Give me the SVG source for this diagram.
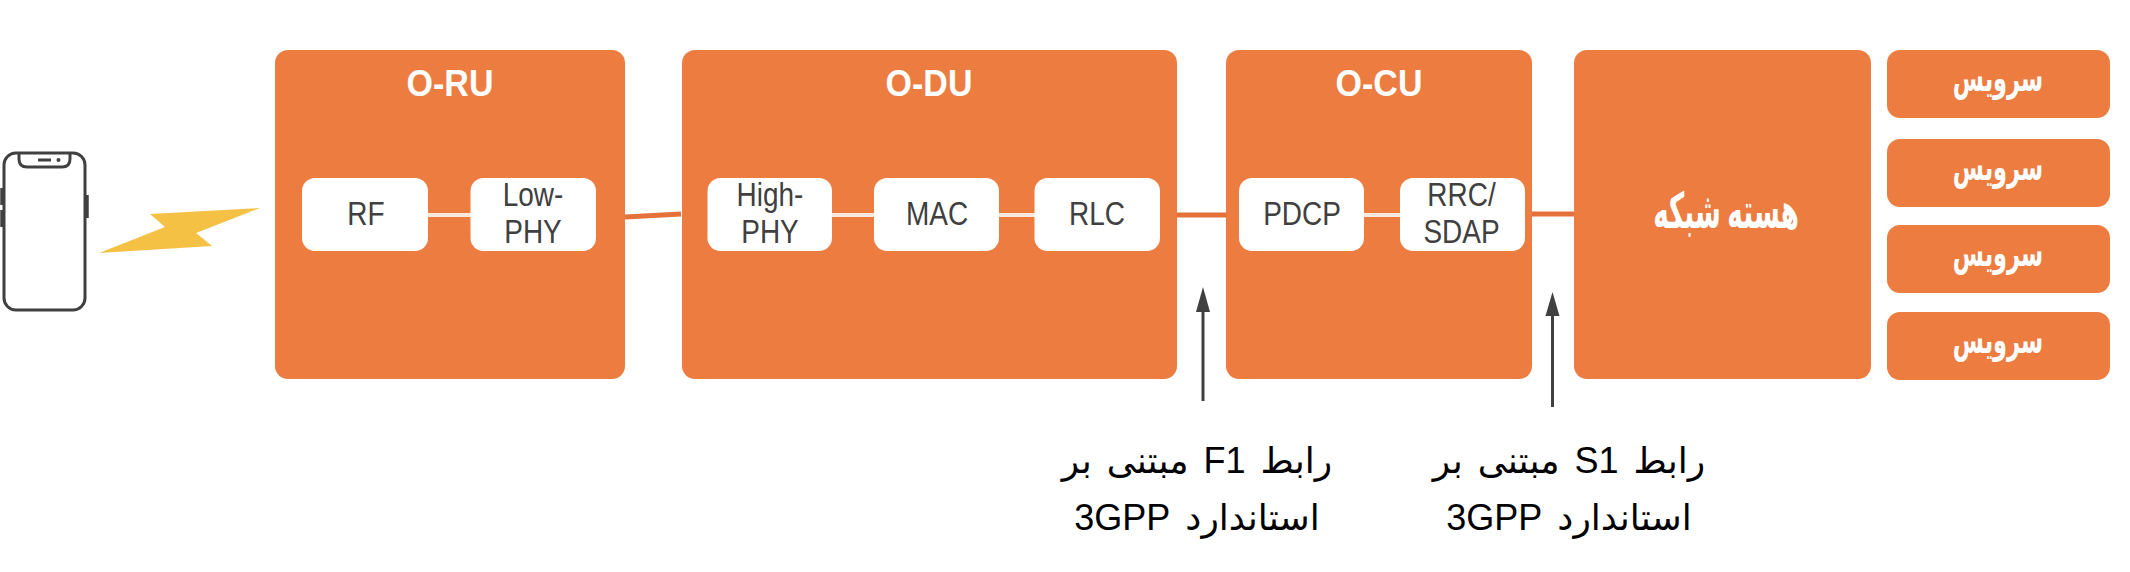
<svg xmlns="http://www.w3.org/2000/svg" width="2130" height="572" viewBox="0 0 2130 572">
<style>
.o{fill:#ec7c40}
.w{fill:#fff}
.t{font-family:"Liberation Sans",Arial,sans-serif;font-size:28px;fill:#404040;text-anchor:middle}
.h{font-family:"Liberation Sans",Arial,sans-serif;font-size:34px;font-weight:bold;fill:#fff;text-anchor:middle}
.s{font-family:"Liberation Serif","DejaVu Sans",serif;font-size:30px;font-weight:bold;fill:#fff;text-anchor:middle;direction:rtl}
.c{font-family:"Liberation Serif","DejaVu Sans",serif;font-size:38px;font-weight:bold;fill:#fff;text-anchor:middle;direction:rtl}
.l{font-family:"Liberation Sans","DejaVu Sans",sans-serif;font-size:36px;word-spacing:5px;fill:#000;text-anchor:middle;direction:rtl}
.in{stroke:#fbe8dc;stroke-width:4;fill:none}
.out{stroke:#e4713a;stroke-width:5;fill:none}
.ar{stroke:#404040;stroke-width:3;fill:none}
.p{stroke:#404040;stroke-width:3;fill:none}
</style>
<defs>
<rect id="sv" width="223" height="68" rx="13" class="o"/>
</defs>
<g id="phone">
<rect class="p" x="4" y="153" width="81" height="157" rx="12"/>
<path class="p" d="M19 154v5q0 8 8 8h35q8 0 8-8v-5"/>
<path class="p" d="M38 160h13"/>
<circle cx="58.5" cy="160" r="2" fill="#404040"/>
<path d="M2 188v17M2 210v17M87 195v23" stroke="#404040" stroke-width="3.5" fill="none"/>
</g>
<polygon id="bolt" points="260,208 150,214 165,227 99,253 212,246 196,233" fill="#f4c144"/>
<g id="o-ru">
<rect class="o" x="275" y="50" width="350" height="329" rx="13"/>
<text class="h" transform="translate(450 96) scale(1 1.1)">O-RU</text>
</g>
<g id="o-du">
<rect class="o" x="682" y="50" width="495" height="329" rx="13"/>
<text class="h" transform="translate(929 96) scale(1 1.1)">O-DU</text>
</g>
<g id="o-cu">
<rect class="o" x="1226" y="50" width="306" height="329" rx="13"/>
<text class="h" transform="translate(1379 96) scale(1 1.1)">O-CU</text>
</g>
<g id="core">
<rect class="o" x="1574" y="50" width="297" height="329" rx="13"/>
<text class="c" transform="translate(1726 228) scale(.69 1.3)">هسته شبکه</text>
</g>
<g id="connectors">
<path class="in" d="M428 215H471"/>
<path class="in" d="M832 215H874"/>
<path class="in" d="M999 215H1035"/>
<path class="in" d="M1364 215H1402"/>
<path class="out" d="M625 217L681 214"/>
<path class="out" d="M1177 215H1226"/>
<path class="out" d="M1532 214H1574"/>
<g id="f1-arrow"><path class="ar" d="M1203 401V310"/><polygon points="1203,287 1196,312 1210,312" fill="#404040"/></g>
<g id="s1-arrow"><path class="ar" d="M1552.5 407V313"/><polygon points="1552.5,292 1545.5,316 1559.5,316" fill="#404040"/></g>
</g>
<g id="rf"><rect class="w" x="302" y="178" width="126" height="73" rx="13"/><text class="t" transform="translate(366 225) scale(1 1.18)">RF</text></g>
<g id="low-phy"><rect class="w" x="470.500" y="178" width="125.500" height="73" rx="13"/><text class="t" transform="translate(533 206) scale(1 1.18)">Low-</text><text class="t" transform="translate(533 243) scale(1 1.18)">PHY</text></g>
<g id="high-phy"><rect class="w" x="707.500" y="178" width="124.500" height="73" rx="13"/><text class="t" transform="translate(770 206) scale(1 1.18)">High-</text><text class="t" transform="translate(770 243) scale(1 1.18)">PHY</text></g>
<g id="mac"><rect class="w" x="874" y="178" width="125" height="73" rx="13"/><text class="t" transform="translate(937 225) scale(1 1.18)">MAC</text></g>
<g id="rlc"><rect class="w" x="1034.500" y="178" width="125.500" height="73" rx="13"/><text class="t" transform="translate(1097 225) scale(1 1.18)">RLC</text></g>
<g id="pdcp"><rect class="w" x="1239" y="178" width="125" height="73" rx="13"/><text class="t" transform="translate(1302 225) scale(1 1.18)">PDCP</text></g>
<g id="rrc-sdap"><rect class="w" x="1400" y="178" width="125" height="73" rx="13"/><text class="t" transform="translate(1461.500 206) scale(1 1.18)">RRC/</text><text class="t" transform="translate(1461.500 243) scale(1 1.18)">SDAP</text></g>
<g id="service-1"><use href="#sv" x="1887" y="50"/><text class="s" transform="translate(1998 91) scale(.75 1.25)">سرویس</text></g>
<g id="service-2"><use href="#sv" x="1887" y="139"/><text class="s" transform="translate(1998 180) scale(.75 1.25)">سرویس</text></g>
<g id="service-3"><use href="#sv" x="1887" y="225"/><text class="s" transform="translate(1998 266) scale(.75 1.25)">سرویس</text></g>
<g id="service-4"><use href="#sv" x="1887" y="312"/><text class="s" transform="translate(1998 353) scale(.75 1.25)">سرویس</text></g>
<g id="label-f1"><text class="l" x="1197" y="473">رابط F1 مبتنی بر</text><text class="l" x="1197" y="530">استاندارد 3GPP</text></g>
<g id="label-s1"><text class="l" x="1569" y="473">رابط S1 مبتنی بر</text><text class="l" x="1569" y="530">استاندارد 3GPP</text></g>
</svg>
